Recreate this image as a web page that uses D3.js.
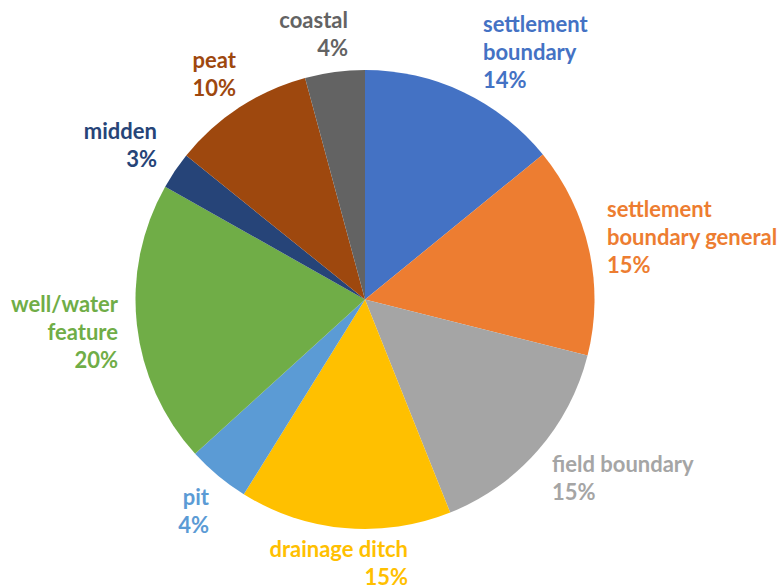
<!DOCTYPE html>
<html>
<head>
<meta charset="utf-8">
<script src="https://cdn.jsdelivr.net/npm/d3@7"></script>
<style>
  body { margin: 0; background: #fff; }
  svg text { font-family: Lato, "Open Sans", sans-serif; font-weight: bold; }
</style>
</head>
<body>
<div class="Canvas"></div>
<script>
// categories clockwise from 12 o'clock
const categories = [
  'settlement\nboundary',
  'settlement\nboundary general',
  'field boundary',
  'drainage ditch',
  'pit',
  'well/water\nfeature',
  'midden',
  'peat',
  'coastal',
];
// share of records, percent
const shares = [14.1, 14.8, 15.0, 14.9, 4.4, 19.9, 2.6, 10.0, 4.2];
const colours = ['#4472C4', '#ED7D31', '#A5A5A5', '#FFC000', '#5B9BD5', '#70AD47', '#264478', '#9E480E', '#636363'];

const width = 780;
const height = 587;
const cx = 365;
const cy = 299.5;
const radius = 229.5;
const lineGap = 28;

// where Excel put each label: anchor x, first baseline y, alignment
const labelSpots = [
  { x: 483, y: 32, anchor: 'start' },
  { x: 607, y: 217, anchor: 'start' },
  { x: 552, y: 472, anchor: 'start' },
  { x: 408, y: 557, anchor: 'end' },
  { x: 209, y: 505, anchor: 'end' },
  { x: 118, y: 312, anchor: 'end' },
  { x: 157, y: 139, anchor: 'end' },
  { x: 236, y: 68, anchor: 'end' },
  { x: 348, y: 28, anchor: 'end' },
];

const rows = categories.map((c, i) => ({ name: c, value: shares[i], colour: colours[i] }));

const svg = d3.select('.Canvas').append('svg').attr('width', width).attr('height', height);

const pie = d3.pie().sort(null).value((d) => d.value);
const arc = d3.arc().innerRadius(0).outerRadius(radius);

svg
  .append('g')
  .attr('transform', `translate(${cx},${cy})`)
  .selectAll('path')
  .data(pie(rows))
  .enter()
  .append('path')
  .attr('d', arc)
  .attr('fill', (d) => d.data.colour);

const labels = svg
  .append('g')
  .selectAll('text')
  .data(rows)
  .enter()
  .append('text')
  .attr('fill', (d) => d.colour)
  .attr('font-size', '22px')
  .attr('text-anchor', (d, i) => labelSpots[i].anchor);

labels.each(function (d, i) {
  const spot = labelSpots[i];
  const lines = d.name.split('\n').concat([`${Math.round(d.value)}%`]);
  d3.select(this)
    .selectAll('tspan')
    .data(lines)
    .enter()
    .append('tspan')
    .attr('x', spot.x)
    .attr('y', (l, k) => spot.y + k * lineGap)
    .text((l) => l);
});
</script>
</body>
</html>
